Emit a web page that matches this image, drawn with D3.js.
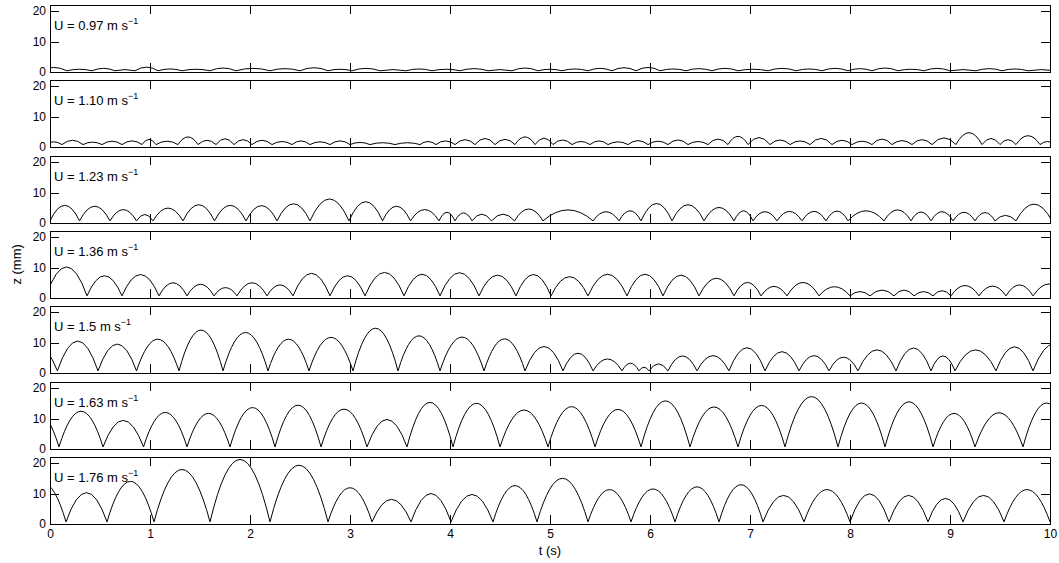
<!DOCTYPE html>
<html>
<head>
<meta charset="utf-8">
<script src="https://cdn.jsdelivr.net/npm/d3@7"></script>
<style>
  body { margin: 0; background: #fff; }
  text { font-family: "Liberation Sans", Arial, sans-serif; }
</style>
</head>
<body>
<div id="chart"></div>
<script>
// flow speeds, one panel each
var speeds = ["0.97", "1.10", "1.23", "1.36", "1.5", "1.63", "1.76"]
var tTicks = d3.range(0, 11)
var zTicks = [0, 10, 20]

// contact times (s) and peak heights (mm) of each hop
var contactT097 = [-0.1, 0.17, 0.42, 0.65, 0.85, 1.08, 1.32, 1.60, 1.86, 2.20, 2.50, 2.78, 3.02, 3.30, 3.56, 3.82, 4.10, 4.38, 4.62, 4.88, 5.12, 5.38, 5.62, 5.86, 6.10, 6.36, 6.62, 6.88, 7.18, 7.46, 7.72, 7.98, 8.22, 8.48, 8.74, 9.00, 9.26, 9.52, 9.78, 10.05]
var peakZ097 = [1.5, 0.9, 1.2, 0.8, 1.6, 1.0, 0.9, 1.3, 1.2, 1.1, 1.4, 0.9, 1.2, 0.8, 1.0, 0.9, 1.1, 0.8, 1.3, 0.9, 1.0, 1.2, 1.4, 1.5, 1.0, 1.1, 1.2, 0.9, 1.2, 1.0, 1.2, 1.1, 1.3, 0.9, 1.2, 0.8, 1.1, 1.0, 0.8]

var contactT110 = [-0.05, 0.12, 0.33, 0.52, 0.72, 0.92, 1.06, 1.28, 1.48, 1.66, 1.84, 2.02, 2.22, 2.42, 2.60, 2.80, 3.00, 3.20, 3.45, 3.70, 3.86, 4.05, 4.25, 4.45, 4.65, 4.85, 5.03, 5.22, 5.40, 5.58, 5.78, 5.98, 6.18, 6.38, 6.58, 6.78, 6.98, 7.20, 7.40, 7.60, 7.82, 8.02, 8.22, 8.42, 8.62, 8.82, 9.06, 9.32, 9.50, 9.66, 9.90, 10.05]
var peakZ110 = [1.7, 2.2, 1.6, 1.9, 2.0, 2.5, 1.9, 3.3, 2.2, 2.7, 2.4, 2.2, 1.8, 2.0, 1.7, 2.0, 1.5, 1.4, 1.4, 1.8, 2.0, 2.4, 2.8, 2.5, 3.3, 2.9, 2.3, 1.8, 2.0, 1.7, 2.1, 1.9, 2.3, 1.8, 2.6, 3.5, 3.1, 2.3, 2.0, 2.8, 2.2, 1.9, 2.6, 2.1, 2.4, 3.0, 4.7, 2.8, 2.4, 3.7, 1.8]

var contactT123 = [0.0, 0.295, 0.60, 0.865, 1.03, 1.33, 1.645, 1.96, 2.27, 2.60, 2.99, 3.325, 3.605, 3.89, 4.05, 4.22, 4.415, 4.645, 4.93, 5.43, 5.69, 5.91, 6.22, 6.54, 6.84, 7.03, 7.27, 7.52, 7.76, 7.98, 8.34, 8.61, 8.81, 9.03, 9.25, 9.45, 9.66, 10.02]
var peakZ123 = [5.8, 5.5, 4.4, 2.8, 4.9, 6.0, 5.8, 5.7, 6.3, 7.9, 7.0, 5.5, 4.4, 3.5, 3.3, 2.9, 2.9, 4.6, 4.3, 3.7, 4.0, 6.4, 6.0, 5.1, 4.0, 3.7, 3.8, 3.8, 3.9, 4.0, 4.3, 3.6, 3.7, 3.5, 3.4, 2.5, 6.2]

var contactT136 = [-0.04, 0.37, 0.72, 1.09, 1.37, 1.64, 1.87, 2.17, 2.43, 2.80, 3.15, 3.54, 3.90, 4.29, 4.66, 5.01, 5.38, 5.77, 6.13, 6.49, 6.84, 7.11, 7.37, 7.69, 8.00, 8.20, 8.44, 8.64, 8.83, 9.01, 9.29, 9.56, 9.83, 10.15]
var peakZ136 = [10.2, 7.3, 7.7, 5.0, 4.5, 3.4, 5.0, 4.3, 8.1, 7.3, 8.4, 7.8, 8.3, 7.5, 7.7, 7.0, 7.8, 7.8, 7.5, 6.5, 5.1, 3.8, 5.1, 3.7, 2.1, 2.6, 2.6, 2.1, 2.4, 4.1, 3.9, 4.3, 4.6]

var contactT150 = [-0.33, 0.074, 0.48, 0.865, 1.29, 1.73, 2.18, 2.59, 3.03, 3.48, 3.90, 4.34, 4.75, 5.13, 5.43, 5.72, 5.89, 5.99, 6.18, 6.47, 6.79, 7.15, 7.49, 7.79, 8.08, 8.46, 8.81, 9.05, 9.46, 9.83, 10.25]
var peakZ150 = [9.0, 10.5, 9.5, 11.1, 14.1, 13.3, 11.1, 11.7, 14.7, 12.2, 11.8, 11.2, 8.7, 6.5, 4.6, 3.2, 1.9, 3.0, 5.6, 5.7, 8.3, 7.0, 5.7, 5.2, 7.6, 8.2, 5.6, 7.6, 8.6, 9.6]

var contactT163 = [-0.36, 0.09, 0.53, 0.935, 1.37, 1.80, 2.25, 2.71, 3.17, 3.57, 4.03, 4.50, 4.98, 5.45, 5.91, 6.40, 6.88, 7.35, 7.88, 8.35, 8.83, 9.25, 9.73, 10.2]
var peakZ163 = [12.5, 12.4, 9.4, 12.0, 11.7, 13.6, 14.4, 13.1, 9.7, 15.3, 15.0, 12.8, 13.9, 13.0, 15.8, 13.8, 14.3, 17.2, 15.1, 15.5, 11.7, 11.9, 15.1]

var contactT176 = [-0.30, 0.16, 0.57, 1.04, 1.60, 2.20, 2.78, 3.22, 3.61, 4.01, 4.43, 4.87, 5.38, 5.81, 6.25, 6.69, 7.13, 7.54, 8.00, 8.39, 8.78, 9.13, 9.54, 10.0]
var peakZ176 = [13.5, 10.3, 14.0, 17.9, 21.2, 19.3, 11.9, 8.1, 10.0, 9.7, 12.6, 15.0, 11.3, 11.5, 12.2, 12.9, 9.4, 11.3, 9.9, 9.4, 8.4, 9.4, 11.3]

// height of the trace at each contact
var floorZ = [0.4, 0.8, 0.7, 0.7, 0.7, 0.7, 0.7]

var runs = [
  {u: speeds[0], t: contactT097, z: peakZ097, base: floorZ[0]},
  {u: speeds[1], t: contactT110, z: peakZ110, base: floorZ[1]},
  {u: speeds[2], t: contactT123, z: peakZ123, base: floorZ[2]},
  {u: speeds[3], t: contactT136, z: peakZ136, base: floorZ[3]},
  {u: speeds[4], t: contactT150, z: peakZ150, base: floorZ[4]},
  {u: speeds[5], t: contactT163, z: peakZ163, base: floorZ[5]},
  {u: speeds[6], t: contactT176, z: peakZ176, base: floorZ[6]}
]

var margin = {left: 50, top: 5}
var width = 1000
var panelH = 67
var step = 75.3

var svg = d3.select('#chart')
  .append('svg')
  .attr('width', 1059)
  .attr('height', 563)

var x = d3.scaleLinear().domain([0, 10]).range([0, width])
var y = d3.scaleLinear().domain([0, 22]).range([panelH, 0])

// each hop drawn as a parabola: quadratic bezier with apex at the peak
function bouncePath(ts, zs, base) {
  var p = d3.path()
  p.moveTo(x(ts[0]), y(base))
  var n = Math.min(zs.length, ts.length - 1)
  for (var k = 0; k < n; k++) {
    var t0 = ts[k], t1 = ts[k + 1]
    p.quadraticCurveTo(x((t0 + t1) / 2), y(2 * zs[k] - base), x(t1), y(base))
  }
  return p.toString()
}

runs.forEach(function(r, i) {
  var top = Math.round(margin.top + i * step)
  var g = svg.append('g')
    .attr('transform', 'translate(' + margin.left + ',' + top + ')')

  g.append('clipPath').attr('id', 'clip' + i)
    .append('rect').attr('width', width).attr('height', panelH)

  g.append('path')
    .attr('clip-path', 'url(#clip' + i + ')')
    .attr('d', bouncePath(r.t, r.z, r.base))
    .attr('fill', 'none')
    .attr('stroke', '#000')
    .attr('stroke-width', 1)
    .attr('stroke-linejoin', 'round')

  var last = i === runs.length - 1

  g.append('g')
    .attr('transform', 'translate(0,' + panelH + ')')
    .call(d3.axisBottom(x).tickValues(tTicks).tickSize(-9).tickPadding(5)
      .tickFormat(last ? d3.format('d') : ''))
  g.append('g')
    .call(d3.axisTop(x).tickValues(tTicks).tickSize(-9).tickFormat(''))
  g.append('g')
    .call(d3.axisLeft(y).tickValues(zTicks).tickSize(-9).tickPadding(4))
  g.append('g')
    .attr('transform', 'translate(' + width + ',0)')
    .call(d3.axisRight(y).tickValues(zTicks).tickSize(-9).tickFormat(''))

  g.selectAll('.domain').remove()
  g.selectAll('.tick line').attr('stroke', '#000').attr('shape-rendering', 'crispEdges')
  g.selectAll('.tick text').style('font-size', '12px').attr('fill', '#000')

  g.append('rect')
    .attr('width', width).attr('height', panelH)
    .attr('fill', 'none').attr('stroke', '#000').attr('stroke-width', 1)
    .attr('shape-rendering', 'crispEdges')

  var lab = g.append('text').attr('x', 4).attr('y', 25).style('font-size', '13px')
  lab.append('tspan').text('U = ' + r.u + ' m s')
  lab.append('tspan').attr('dy', -6).style('font-size', '9px').text('\u22121')
})

svg.append('text')
  .attr('x', margin.left + width / 2).attr('y', 555)
  .attr('text-anchor', 'middle').style('font-size', '13px')
  .text('t (s)')

svg.append('text')
  .attr('transform', 'translate(21,' + (margin.top + (6 * step + panelH) / 2) + ') rotate(-90)')
  .attr('text-anchor', 'middle').style('font-size', '13px')
  .text('z (mm)')
</script>
</body>
</html>
